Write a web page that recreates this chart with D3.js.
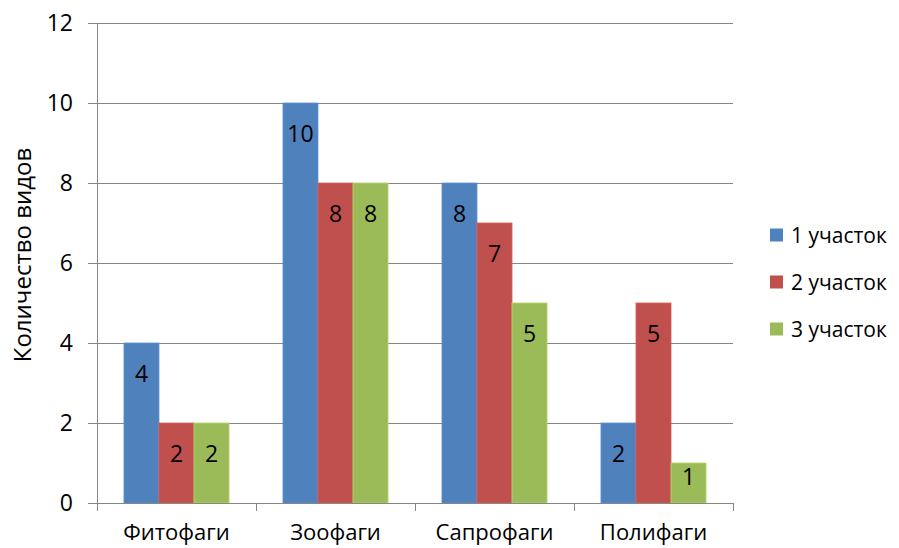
<!DOCTYPE html>
<html><head><meta charset="utf-8">
<script src="https://cdn.jsdelivr.net/npm/d3@7"></script>
<style>body{margin:0;background:#fff}svg{display:block;font-family:"Open Sans",sans-serif}</style>
</head><body><svg id="c" width="899" height="548"></svg>
<script>
const categories = ["Фитофаги", "Зоофаги", "Сапрофаги", "Полифаги"];
const seriesNames = ["1 участок", "2 участок", "3 участок"];
const series1 = [4, 10, 8, 2];
const series2 = [2, 8, 7, 5];
const series3 = [2, 8, 5, 1];
const yTicks = [0, 2, 4, 6, 8, 10, 12];
const yTitle = "Количество видов";
const colors = ["#4F81BD", "#C0504D", "#9BBB59"];
const seriesValues = [series1, series2, series3];

const svg = d3.select("#c");
const m = {l: 97, r: 733, t: 23, b: 503};
const x = d3.scaleBand().domain(categories).range([m.l, m.r]).paddingInner(0).paddingOuter(0);
const y = d3.scaleLinear().domain([0, 12]).range([m.b, m.t]);
const inner = d3.scaleBand().domain(d3.range(3)).range([0, x.bandwidth()]).paddingOuter(0.77).paddingInner(0);

// gridlines
svg.append("g").selectAll("line").data(yTicks).join("line")
  .attr("x1", m.l - 9).attr("x2", m.r).attr("y1", d => y(d)).attr("y2", d => y(d))
  .attr("stroke", "#868686").attr("stroke-width", 1).attr("shape-rendering", "crispEdges");

// y axis
const yAxis = svg.append("g").attr("transform", `translate(${m.l},0)`)
  .call(d3.axisLeft(y).tickValues(yTicks).tickSize(0).tickPadding(24));
yAxis.select(".domain").attr("stroke", "#868686").attr("shape-rendering", "crispEdges");
yAxis.selectAll("text").attr("font-size", 23).attr("fill", "#000").attr("font-family", "Open Sans");

// bars
seriesValues.forEach((vals, si) => {
  svg.append("g").selectAll("rect").data(vals).join("rect")
    .attr("x", (d, i) => x(categories[i]) + inner(si))
    .attr("y", d => y(d))
    .attr("width", inner.bandwidth())
    .attr("height", d => y(0) - y(d))
    .attr("fill", colors[si])
    .attr("stroke", d3.color(colors[si]).brighter(0.4)).attr("stroke-width", 0.8);
  svg.append("g").selectAll("text").data(vals).join("text")
    .attr("x", (d, i) => x(categories[i]) + inner(si) + inner.bandwidth() / 2)
    .attr("y", d => {
      const top = y(d), h = y(0) - y(d);
      return Math.min(top + 31, top + h / 2 - 6);
    })
    .attr("dy", "0.36em")
    .attr("text-anchor", "middle").attr("font-size", 23).attr("fill", "#000")
    .text(d => d);
});

// x axis
const xAxis = svg.append("g").attr("transform", `translate(0,${m.b})`);
xAxis.append("line").attr("x1", m.l).attr("x2", m.r).attr("stroke", "#868686").attr("shape-rendering", "crispEdges");
const bounds = categories.map(c => x(c)).concat([m.r]);
xAxis.selectAll("line.t").data(bounds).join("line").attr("class", "t")
  .attr("x1", d => d).attr("x2", d => d).attr("y1", 0).attr("y2", 8)
  .attr("stroke", "#868686").attr("shape-rendering", "crispEdges");
xAxis.selectAll("text").data(categories).join("text")
  .attr("x", d => x(d) + x.bandwidth() / 2).attr("y", 37)
  .attr("text-anchor", "middle").attr("font-size", 22).attr("fill", "#000").text(d => d);

// y title
svg.append("text").attr("transform", "translate(31,255) rotate(-90)")
  .attr("text-anchor", "middle").attr("font-size", 24).attr("fill", "#000").text(yTitle);

// legend
const lg = svg.append("g").selectAll("g").data(seriesNames).join("g")
  .attr("transform", (d, i) => `translate(770,${235 + i * 47})`);
lg.append("rect").attr("x", 0).attr("y", -6.5).attr("width", 13).attr("height", 13).attr("fill", (d, i) => colors[i]);
lg.append("text").attr("x", 21).attr("dy", "0.36em").attr("font-size", 21).attr("fill", "#000").text(d => d);
</script></body></html>
